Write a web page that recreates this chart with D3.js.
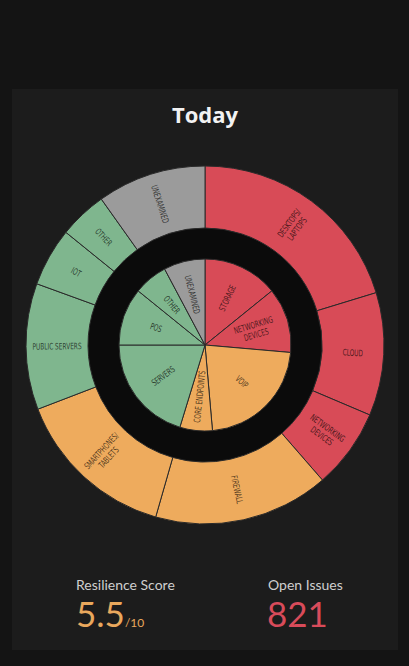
<!DOCTYPE html>
<html>
<head>
<meta charset="utf-8">
<script src="https://cdn.jsdelivr.net/npm/d3@7"></script>
<style>
  html, body { margin: 0; padding: 0; background: #141414; }
  svg { display: block; }
</style>
</head>
<body>
<svg id="chart" width="409" height="666"></svg>
<script>
// ---- Data ----
const outerCategories = ["DESKTOPS/\nLAPTOPS", "CLOUD", "NETWORKING\nDEVICES", "FIREWALL", "SMARTPHONES/\nTABLETS", "PUBLIC SERVERS", "IOT", "OTHER", "UNEXAMINED"];
const outerValues     = [73, 40, 26, 57, 53, 41, 19, 15.6, 35.4];
const outerStatus     = ["critical", "critical", "critical", "warning", "warning", "good", "good", "good", "unknown"];

const innerCategories = ["STORAGE", "NETWORKING\nDEVICES", "VOIP", "CORE ENDPOINTS", "SERVERS", "POS", "OTHER", "UNEXAMINED"];
const innerValues     = [51, 44, 80, 22, 73, 39, 23, 28];
const innerStatus     = ["critical", "critical", "warning", "warning", "good", "good", "good", "unknown"];

const titleText = "Today";
const scoreLabel = "Resilience Score";
const scoreValue = "5.5";
const scoreMax = "/10";
const issuesLabel = "Open Issues";
const issuesValue = "821";

// ---- Styles ----
const statusColor = d3.scaleOrdinal()
  .domain(["critical", "warning", "good", "unknown"])
  .range(["#d84b57", "#eeab5d", "#7fb68e", "#9b9b9b"]);

const svg = d3.select("#chart");

svg.append("rect").attr("x", 12).attr("y", 89).attr("width", 386).attr("height", 561).attr("fill", "#1c1c1c");

svg.append("text")
  .attr("x", 205).attr("y", 123)
  .attr("text-anchor", "middle")
  .attr("font-family", "'Open Sans', 'Noto Sans', sans-serif")
  .attr("font-weight", 700)
  .attr("font-size", 22)
  .attr("fill", "#f2f2f2")
  .text(titleText);

const cx = 205, cy = 345;
const g = svg.append("g").attr("transform", `translate(${cx},${cy})`);

g.append("circle").attr("r", 117).attr("fill", "#0b0b0b");

const pie = d3.pie().sort(null).value(d => d.value);

function drawRing(cats, vals, stats, r0, r1, labelR) {
  const data = cats.map((c, i) => ({ name: c, value: vals[i], status: stats[i] }));
  const arcs = pie(data);
  const arc = d3.arc().innerRadius(r0).outerRadius(r1);
  const grp = g.append("g");
  grp.selectAll("path").data(arcs).join("path")
    .attr("d", arc)
    .attr("fill", d => statusColor(d.data.status))
    .attr("stroke", "#2a2a2a")
    .attr("stroke-width", 1);
  const lab = grp.selectAll("text").data(arcs).join("text")
    .attr("transform", d => {
      const a = (d.startAngle + d.endAngle) / 2 * 180 / Math.PI;
      return `rotate(${a - 90}) translate(${labelR},0) rotate(${a < 180 ? 0 : 180}) scale(0.72,1)`;
    })
    .attr("text-anchor", "middle")
    .attr("font-family", "'DejaVu Sans', sans-serif")
    .attr("font-stretch", "condensed")
    .attr("font-size", 9)
    .attr("fill", "#000")
    .attr("fill-opacity", 0.68);
  lab.each(function(d) {
    const lines = d.data.name.split("\n");
    const t = d3.select(this);
    lines.forEach((ln, i) => {
      t.append("tspan")
        .attr("x", 0)
        .attr("dy", i === 0 ? `${0.35 - (lines.length - 1) * 0.55}em` : "1.1em")
        .text(ln);
    });
  });
}

drawRing(outerCategories, outerValues, outerStatus, 117, 179, 148);
drawRing(innerCategories, innerValues, innerStatus, 0, 86, 52);

// ---- KPIs ----
const kpiFont = "Lato, 'Open Sans', sans-serif";
svg.append("text").attr("x", 76).attr("y", 590)
  .attr("font-family", kpiFont).attr("font-size", 14).attr("fill", "#cfcfcf").text(scoreLabel);
const sv = svg.append("text").attr("x", 76).attr("y", 627)
  .attr("font-family", kpiFont).attr("fill", "#e9a85d");
sv.append("tspan").attr("font-size", 35).text(scoreValue);
sv.append("tspan").attr("font-size", 12).text(scoreMax);

svg.append("text").attr("x", 268).attr("y", 590)
  .attr("font-family", kpiFont).attr("font-size", 14).attr("fill", "#cfcfcf").text(issuesLabel);
svg.append("text").attr("x", 267).attr("y", 627)
  .attr("font-family", kpiFont).attr("font-size", 35).attr("fill", "#d84b5a").text(issuesValue);
</script>
</body>
</html>
